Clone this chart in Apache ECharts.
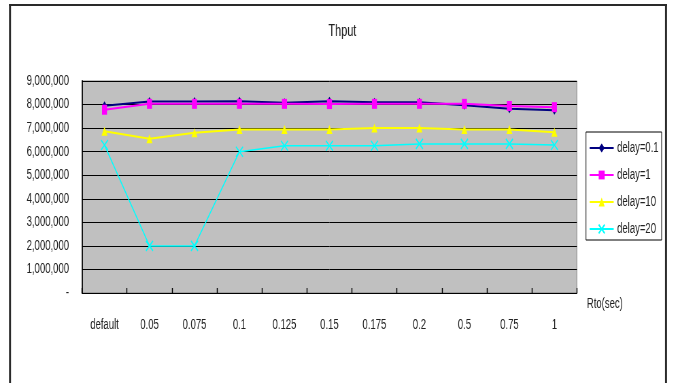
<!DOCTYPE html>
<html>
<head>
<meta charset="utf-8">
<script src="https://cdn.jsdelivr.net/npm/echarts@6/dist/echarts.min.js"></script>
<style>
  html, body { margin: 0; padding: 0; background: #fff; overflow: hidden; }
  #wrap { width: 674px; height: 383px; overflow: hidden; }
  #chart { height: 383px; transform-origin: 0 0; }
</style>
</head>
<body>
<div id="wrap"><div id="chart"></div></div>
<script>
// Throughput vs. retransmission timeout, one line per link delay
const categories = ['default', '0.05', '0.075', '0.1', '0.125', '0.15', '0.175', '0.2', '0.5', '0.75', '1'];
const delay01 = [7950000, 8130000, 8130000, 8140000, 8080000, 8140000, 8100000, 8100000, 7970000, 7820000, 7760000];
const delay1  = [7780000, 8030000, 8030000, 8030000, 8030000, 8020000, 8030000, 8030000, 8030000, 7940000, 7890000];
const delay10 = [6870000, 6550000, 6800000, 6940000, 6940000, 6940000, 7000000, 7000000, 6940000, 6940000, 6820000];
const delay20 = [6280000, 2000000, 2000000, 6000000, 6250000, 6250000, 6250000, 6330000, 6330000, 6330000, 6280000];
const seriesNames = ['delay=0.1', 'delay=1', 'delay=10', 'delay=20'];

// The chart is laid out wider and condensed horizontally, giving narrow lettering.
const SX = 0.68;
const W = 674;
const H = 383;
const hx = v => v / SX;   // horizontal length in layout units

const el = document.getElementById('chart');
el.style.width = hx(W) + 'px';
el.style.transform = 'scaleX(' + SX + ')';

const FONT = "'Liberation Sans', Arial, sans-serif";
const TEXT = '#222';

const chart = echarts.init(el, null, { renderer: 'canvas' });

const crossPath = 'path://M0,0L10,12M10,0L0,12';

chart.setOption({
  animation: false,
  backgroundColor: '#ffffff',
  textStyle: { fontFamily: FONT, color: TEXT },
  title: {
    text: 'Thput',
    left: hx(339), top: 19,
    textAlign: 'center',
    textStyle: { fontFamily: FONT, fontSize: 16, fontWeight: 'normal', color: TEXT }
  },
  graphic: [
    { type: 'line', silent: true, shape: { x1: hx(9), y1: 5, x2: hx(667), y2: 5 }, style: { stroke: '#2a2a2a', lineWidth: 2 } },
    { type: 'line', silent: true, shape: { x1: hx(10), y1: 4, x2: hx(10), y2: H + 5 }, style: { stroke: '#2a2a2a', lineWidth: hx(2) } },
    { type: 'line', silent: true, shape: { x1: hx(666), y1: 4, x2: hx(666), y2: H + 5 }, style: { stroke: '#2a2a2a', lineWidth: hx(2) } }
  ],
  legend: {
    orient: 'vertical',
    left: hx(586), top: 132,
    padding: [9, hx(3), 4, hx(3)],
    itemWidth: hx(24), itemHeight: 11, itemGap: 13,
    borderColor: '#000', borderWidth: 1,
    backgroundColor: '#fff',
    textStyle: { fontFamily: FONT, fontSize: 14, lineHeight: 14, color: TEXT },
    data: seriesNames
  },
  grid: {
    left: hx(82), right: hx(97), top: 81, bottom: 90,
    show: true,
    backgroundColor: '#c0c0c0',
    borderColor: '#808080',
    borderWidth: 1,
    containLabel: false
  },
  xAxis: {
    type: 'category',
    data: categories,
    boundaryGap: true,
    name: 'Rto(sec)',
    nameLocation: 'end',
    nameGap: hx(10),
    nameTextStyle: { fontFamily: FONT, fontSize: 14, color: TEXT, verticalAlign: 'top', padding: [4, 0, 0, 0] },
    axisLine: { show: true, lineStyle: { color: '#000', width: 1.2 } },
    axisTick: { show: true, inside: true, length: 5, lineStyle: { color: '#000', width: hx(1) } },
    axisLabel: { interval: 0, margin: 25, fontFamily: FONT, fontSize: 14, color: TEXT },
    splitLine: { show: false }
  },
  yAxis: {
    type: 'value',
    min: 0, max: 9000000, interval: 1000000,
    axisLine: { show: true, lineStyle: { color: '#000', width: hx(1.2) } },
    axisTick: { show: false },
    axisLabel: {
      margin: hx(13), fontFamily: FONT, fontSize: 14, color: TEXT,
      formatter: v => v === 0 ? '-' : v.toLocaleString('en-US')
    },
    splitLine: { show: true, lineStyle: { color: '#000', width: 1 } }
  },
  series: [
    {
      name: seriesNames[0], type: 'line', data: delay01,
      symbol: 'diamond', symbolSize: [hx(5), 9],
      lineStyle: { color: '#000080', width: 2 },
      itemStyle: { color: '#000080' }
    },
    {
      name: seriesNames[1], type: 'line', data: delay1,
      symbol: 'rect', symbolSize: [hx(5), 10],
      lineStyle: { color: '#ff00ff', width: 2 },
      itemStyle: { color: '#ff00ff' }
    },
    {
      name: seriesNames[2], type: 'line', data: delay10,
      symbol: 'triangle', symbolSize: [hx(6), 9],
      lineStyle: { color: '#ffff00', width: 2 },
      itemStyle: { color: '#ffff00' }
    },
    {
      name: seriesNames[3], type: 'line', data: delay20,
      symbol: crossPath, symbolSize: [hx(7), 10],
      lineStyle: { color: '#00ffff', width: 1.5 },
      itemStyle: { color: 'rgba(0,0,0,0)', borderColor: '#00ffff', borderWidth: 1.5 }
    }
  ]
});
</script>
</body>
</html>
